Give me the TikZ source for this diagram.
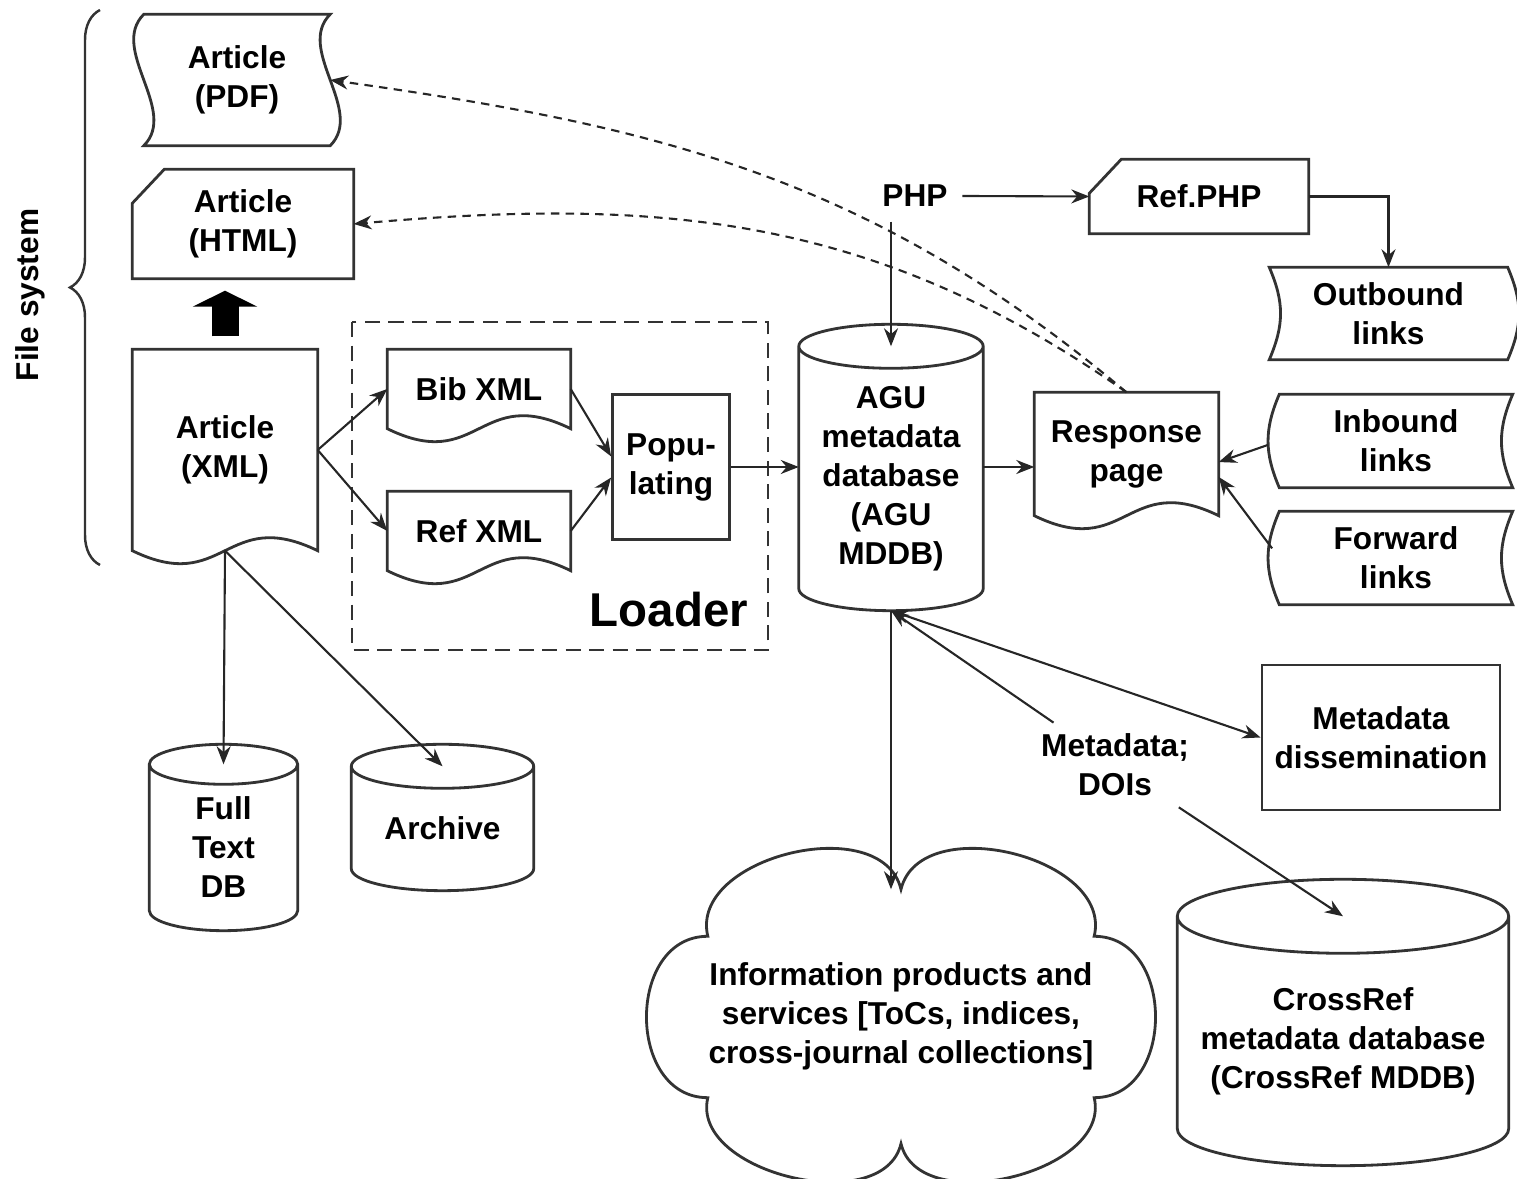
\documentclass[tikz,border=0pt]{standalone}
\usepackage{fontspec}
\setmainfont{Liberation Sans}
\usetikzlibrary{arrows.meta,calc,decorations.pathreplacing}

\tikzset{
  lbl/.style={font=\fontsize{9}{11.1}\selectfont\bfseries, align=center, inner sep=0pt},
  wh/.style 2 args={lbl, minimum width=#1cm, minimum height=#2cm},
  box/.style={draw=black!80, line width=0.8pt},
  link/.style={->, >={Stealth[length=1.8mm,width=1.4mm]}, line width=0.6pt, black!85},
  backlink/.style={link, dash pattern=on 2.4pt off 1.8pt},
}

% outlines drawn round the named nodes
% #2, #3: sideways pull of the side edges near top and bottom
\newcommand{\tapeshape}[3]{%
  \draw[box] (#1.north west) .. controls +(#2,-0.35) and +(#3,0.35) .. (#1.south west)
    -- (#1.south east) .. controls +(#3,0.35) and +(#2,-0.35) .. (#1.north east) -- cycle;}
\newcommand{\docshape}[1]{%
  \draw[box] (#1.south west) -- (#1.north west) -- (#1.north east) -- (#1.south east)
    .. controls ($(#1.south)+(0,0.45)$) and ($(#1.south)+(0,-0.45)$) .. (#1.south west) -- cycle;}
\newcommand{\cardshape}[1]{%
  \draw[box] ($(#1.north west)+(0,-0.34)$) -- ($(#1.north west)+(0.32,0)$) -- (#1.north east)
    -- (#1.south east) -- (#1.south west) -- cycle;}
\newcommand{\cylshape}[2]{%
  \draw[box] let \p1=($(#1.north east)-(#1.north west)$) in
    (#1.north west) -- ($(#1.south west)+(0,#2)$)
    arc[start angle=180, end angle=360, x radius=0.5*\x1, y radius=#2cm]
    -- (#1.north east)
    arc[start angle=0, end angle=360, x radius=0.5*\x1, y radius=#2cm];}
\newcommand{\cloudshape}[1]{%
  \draw[box] (#1.north) to[bend right=90, looseness=1.05] ($(#1.north west)+(0,-0.47)$)
    to[bend right=90, looseness=1.3] ($(#1.south west)+(0,0.46)$)
    to[bend right=90, looseness=1.0] (#1.south)
    to[bend right=90, looseness=1.0] ($(#1.south east)+(0,0.46)$)
    to[bend right=90, looseness=1.3] ($(#1.north east)+(0,-0.47)$)
    to[bend right=90, looseness=1.05] (#1.north) -- cycle;}

\begin{document}
\begin{tikzpicture}
  \useasboundingbox (0,0) rectangle (15.17,-11.79);

  % file system
  \node[lbl, rotate=90] (fs) at (0.30,-2.95) {File system};
  \draw[black!80, line width=0.7pt, decorate, decoration={brace, amplitude=0.3cm}] (1.0,-5.65) -- (1.0,-0.10);

  \node[wh={1.85}{1.30}] (pdf) at (2.37,-0.80) {Article\\(PDF)};
  \node[wh={2.20}{1.08}] (html) at (2.43,-2.24) {Article\\(HTML)};
  \node[wh={1.84}{2.00}] (xml) at (2.25,-4.50) {Article\\(XML)};
  \tapeshape{pdf}{-0.35}{0.35}
  \cardshape{html}
  \docshape{xml}
  \draw[line width=0.27cm, -{Triangle[length=0.16cm,width=0.64cm]}, shorten <=0.13cm, shorten >=0.12cm]
    (xml.north) -- (xml.north |- html.south);

  % loader
  \draw[box, dash pattern=on 4.3pt off 2.4pt] (3.52,-3.22) rectangle (7.68,-6.50);
  \node[font=\fontsize{13.5}{16}\selectfont\bfseries, inner sep=0pt] (loader) at (6.69,-6.10) {Loader};
  \node[wh={1.82}{0.78}] (bib) at (4.79,-3.89) {Bib XML};
  \node[wh={1.82}{0.78}] (ref) at (4.79,-5.31) {Ref XML};
  \node[wh={1.17}{1.45}, box] (pop) at (6.71,-4.67) {Popu-\\lating};
  \docshape{bib}
  \docshape{ref}

  \node[wh={1.83}{2.63}] (mddb) at (8.91,-4.785) {AGU\\metadata\\database\\(AGU\\MDDB)};
  \cylshape{mddb}{0.22}

  \node[lbl, inner sep=4pt] (php) at (9.15,-1.96) {PHP};
  \node[wh={2.18}{0.73}] (refphp) at (11.99,-1.965) {Ref.PHP};
  \cardshape{refphp}
  \node[wh={2.37}{0.91}] (outb) at (13.885,-3.135) {Outbound\\links};
  \node[wh={2.32}{0.92}] (inb) at (13.96,-4.41) {Inbound\\links};
  \node[wh={2.32}{0.92}] (fwd) at (13.96,-5.58) {Forward\\links};
  \tapeshape{outb}{0.15}{0.15}
  \tapeshape{inb}{-0.15}{-0.15}
  \tapeshape{fwd}{-0.15}{-0.15}
  \node[wh={1.83}{1.22}] (resp) at (11.265,-4.54) {Response\\page};
  \docshape{resp}

  \node[wh={2.38}{1.45}, box] (dissem) at (13.81,-7.375) {Metadata\\dissemination};
  \node[lbl, inner sep=3pt] (meta) at (11.15,-7.65) {Metadata;\\DOIs};
  \node[wh={3.50}{2.53}] (cloud) at (9.01,-10.165)
    {Information products and\\services [ToCs, indices,\\cross-journal collections]};
  \cloudshape{cloud}
  \node[wh={3.30}{2.48}] (xref) at (13.43,-10.41) {CrossRef\\metadata database\\(CrossRef MDDB)};
  \cylshape{xref}{0.37}

  \node[wh={1.47}{1.65}] (ftdb) at (2.235,-8.475) {Full\\Text\\DB};
  \node[wh={1.81}{1.23}] (arch) at (4.425,-8.285) {Archive};
  \cylshape{ftdb}{0.20}
  \cylshape{arch}{0.22}

  % connectors
  \draw[link] (xml.east) -- (bib.west);
  \draw[link] (xml.east) -- (ref.west);
  \draw[link] (bib.east) -- (pop.170);
  \draw[link] (ref.east) -- (pop.190);
  \draw[link] (pop.east) -- (pop.east -| mddb.west);
  \draw[link] (pop.east -| mddb.east) -- (pop.east -| resp.west);
  \draw[link] (php.south -| mddb.north) -- (mddb.north);
  \draw[link] (php.east) -- (refphp.west);
  \draw[link] (refphp.east) -| (outb.north);
  \draw[link, shorten <=1.2mm] (inb.west) -- (resp.-5);
  \draw[link, shorten <=1.2mm] (fwd.west) -- (resp.-14);
  \draw[backlink] (resp.north) to[out=140, in=-8] (pdf.east);
  \draw[backlink] (resp.north) to[out=145, in=5] (html.east);
  \draw[link] (mddb.south) -- (mddb.south |- cloud.north);
  \draw[link, <->] (mddb.south) -- (dissem.west);
  \draw[link] (meta) -- (mddb.south);
  \draw[link] (meta) -- (xref.north);
  \draw[link] (xml.south) -- (ftdb.north);
  \draw[link] (xml.south) -- (arch.north);
\end{tikzpicture}
\end{document}
